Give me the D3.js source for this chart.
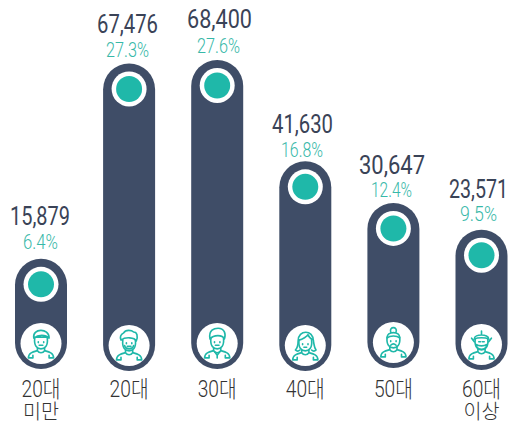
<!DOCTYPE html>
<html><head><meta charset="utf-8">
<script src="https://cdn.jsdelivr.net/npm/d3@7/dist/d3.min.js"></script>
<style>html,body{margin:0;padding:0;background:#fff}svg{display:block}</style>
</head><body><svg id="c" width="510" height="425"></svg>
<script>
const categories = ["20대 미만","20대","30대","40대","50대","60대 이상"];
const counts = [15879,67476,68400,41630,30647,23571];
const shares = [6.4,27.3,27.6,16.8,12.4,9.5];
const valueLabels = ["15,879","67,476","68,400","41,630","30,647","23,571"];

// layout, read separately from the data
const bottoms = [369,371,369,371,368,370];
const valueBase = [225,33,28,133,174,198];
const shareBase = [249,57,53,157,197,221];
const valueX = [40,127.5,219.5,302.5,392,478.5];
const shareX = [40.5,127.5,218.5,302,391.5,478.5];
const valueW = [60,61,65,61,66,59];
const shareW = [35,43,43,42,41,37];

const hairStyles = [
 "M-8,-6C-10,-17 9,-18 9,-6C5,-10 -3,-10 -8,-6Z M-8,-7L9,-7",
 "M-9,-6C-11,-11 -8,-13 -6,-14C-4,-18 3,-17 5,-15C9,-15 10,-10 8,-5C6,-9 -4,-10 -9,-6Z",
 "M-8,-5C-10,-15 -3,-17 1,-17C8,-17 10,-11 8,-5C6,-10 -4,-10 -8,-5Z",
 "M-8,-5C-8,-18 9,-18 9,-5C10,0 10,3 12,5C10,7 8,6 7,5M-8,-5C-8,0 -9,3 -11,5C-9,7 -7,6 -6,5M-7,-6C-3,-7 2,-10 3,-12C4,-9 7,-7 9,-6",
 "M-7,-5C-8,-13 8,-13 7,-5C4,-8 -4,-8 -7,-5ZM-3,-12C-5,-18 5,-18 3,-12",
 "M-8,-6C-8,-12 8,-12 8,-6C4,-8 -4,-8 -8,-6ZM0,-11L0,-15M-8,-3L-11,-7M8,-3L11,-7M-6,0C-5,7 5,7 6,0C3,2 -3,2 -6,0Z"
];
const faceMarks = [
 "M-3,-2L-3,-1M3,-2L3,-1M-2,2L2,2",
 "M-3,-3L-3,-2M3,-3L3,-2M-5,0C-4,5 4,5 5,0M-2,1L2,1",
 "M-3,-2L-3,-1M3,-2L3,-1M-2,2L2,2M-3,9L0,13L3,9M0,13L0,16",
 "M-3,-2L-3,-1M3,-2L3,-1M-1.5,2L1.5,2",
 "M-3,-2L-3,-1M3,-2L3,-1M-3,3C-1,1 1,1 3,3",
 "M-3,-3L-1,-3M1,-3L3,-3"
];

const navy = "#3f4d67", teal = "#1fb8a9", tealText = "#37b8a8", ink = "#3a4357";
const svg = d3.select("#c");
const x = d3.scalePoint().domain(categories).range([41,481.5]);
const y = d3.scaleLinear().domain([0,68400]).range([319,60]);
const rows = categories.map((c,i)=>({c,i,v:counts[i],p:shares[i],l:valueLabels[i],b:bottoms[i]}));
const W = 52;

const g = svg.selectAll("g.col").data(rows).join("g").attr("class","col")
  .attr("transform",d=>`translate(${x(d.c)},0)`);

g.append("rect").attr("x",-W/2).attr("width",W)
  .attr("y",d=>y(d.v)).attr("height",d=>d.b-y(d.v))
  .attr("rx",W/2).attr("fill",navy);
g.append("circle").attr("cy",d=>y(d.v)+25.5).attr("r",17.5).attr("fill","#fff");
g.append("circle").attr("cy",d=>y(d.v)+25.5).attr("r",13).attr("fill",teal);
g.append("circle").attr("cy",d=>d.b-25.5).attr("r",20.5).attr("fill","#fff");

const icon = g.append("g").attr("transform",d=>`translate(0,${d.b-25.5}) scale(0.9)`)
  .attr("fill","none").attr("stroke",teal).attr("stroke-width",1.8)
  .attr("stroke-linecap","round").attr("stroke-linejoin","round");
icon.append("path").attr("d","M-7,-6C-8,3 -4,6 0,6C4,6 8,3 7,-6");
icon.append("path").attr("d",d=>hairStyles[d.i]);
icon.append("path").attr("d",d=>faceMarks[d.i]);
icon.append("path").attr("d","M-4,5L-4,8C-8,9 -14,10 -14,16L-9,16L-9,13M4,5L4,8C8,9 14,10 14,16L9,16L9,13M-4,8C-2,11 2,11 4,8");

// squeeze a text to the width it has in the picture, so its box stays true
function fit(sel, cx, base, width){
  sel.attr("transform",function(d){
    const natural = this.getComputedTextLength();
    return `translate(${cx(d)},${base(d)}) scale(${width(d)/natural},1)`;
  });
}
svg.selectAll("text.val").data(rows).join("text").attr("class","val")
  .attr("text-anchor","middle")
  .attr("font-family","Roboto,sans-serif").attr("font-size",26.5).attr("fill",ink)
  .text(d=>d.l)
  .call(fit,d=>valueX[d.i],d=>valueBase[d.i],d=>valueW[d.i]);
svg.selectAll("text.pct").data(rows).join("text").attr("class","pct")
  .attr("text-anchor","middle")
  .attr("font-family","Roboto,sans-serif").attr("font-weight",300).attr("font-size",19.5).attr("fill",tealText)
  .text(d=>d.p.toFixed(1)+"%")
  .call(fit,d=>shareX[d.i],d=>shareBase[d.i],d=>shareW[d.i]);

const labelFont = "Roboto,'Noto Sans CJK KR',sans-serif";
g.append("text").attr("class","lab1").attr("text-anchor","middle")
  .attr("font-family",labelFont).attr("font-weight",300).attr("font-size",23).attr("fill","#333")
  .text(d=>d.c.split(" ")[0])
  .call(fit,()=>0,()=>397,()=>39);
g.filter(d=>d.c.includes(" ")).append("text").attr("class","lab2").attr("text-anchor","middle")
  .attr("font-family",labelFont).attr("font-weight",300).attr("font-size",20).attr("fill","#333")
  .text(d=>d.c.split(" ")[1])
  .call(fit,()=>0,()=>419,()=>36);
</script></body></html>
